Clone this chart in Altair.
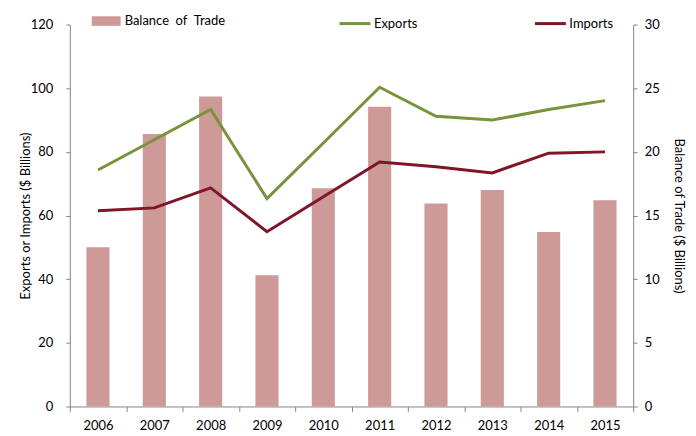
import altair as alt
import pandas as pd

years = ["2006", "2007", "2008", "2009", "2010", "2011", "2012", "2013", "2014", "2015"]
balance = [12.5, 21.4, 24.35, 10.3, 17.15, 23.55, 15.95, 17.0, 13.7, 16.2]
exports = [74.3, 83.8, 93.3, 65.3, 82.8, 100.3, 91.2, 90.0, 93.3, 96.1]
imports = [61.5, 62.4, 68.7, 54.9, 65.9, 76.8, 75.3, 73.4, 79.6, 80.0]

bar_name = ["Balance of Trade"]
bar_color = ["#CD9A97"]
line_names = ["Exports", "Imports"]
line_colors = ["#77933C", "#7F1527"]

bar_df = pd.DataFrame({"year": years, "value": balance, "series": "Balance of Trade"})
line_df = pd.concat([
    pd.DataFrame({"year": years, "value": exports, "series": "Exports"}),
    pd.DataFrame({"year": years, "value": imports, "series": "Imports"}),
])

FONT = "Lato"
x_enc = alt.X("year:O", title=None,
              scale=alt.Scale(paddingInner=0, paddingOuter=0),
              axis=alt.Axis(labelAngle=0, tickBand="extent", tickSize=5,
                            labelPadding=8, domainColor="#868686", tickColor="#868686"))

bars = alt.Chart(bar_df).mark_bar(width=alt.RelativeBandSize(0.41)).encode(
    x=x_enc,
    y=alt.Y("value:Q", title="Balance of Trade ($ Billions)",
            scale=alt.Scale(domain=[0, 30], nice=False),
            axis=alt.Axis(orient="right", values=[0, 5, 10, 15, 20, 25, 30], grid=False,
                          tickSize=4, labelPadding=7, titlePadding=12,
                          domainColor="#868686", tickColor="#868686")),
    fill=alt.Fill("series:N", scale=alt.Scale(domain=bar_name, range=bar_color),
                  legend=alt.Legend(title=None, orient="none", legendX=22, legendY=-18,
                                    symbolType="M-1,-0.33L1,-0.33L1,0.33L-1,0.33Z",
                                    symbolSize=841, symbolStrokeWidth=0, labelOffset=4,
                                    symbolOpacity=1,
                                    labelExpr="'Balance\u2002of\u2002Trade'")),
)

lines = alt.Chart(line_df).mark_line(strokeWidth=3).encode(
    x=x_enc,
    y=alt.Y("value:Q", title="Exports or Imports ($ Billions)",
            scale=alt.Scale(domain=[0, 120], nice=False),
            axis=alt.Axis(orient="left", values=[0, 20, 40, 60, 80, 100, 120], grid=False,
                          tickSize=4, labelPadding=13, titlePadding=-2,
                          domainColor="#868686", tickColor="#868686")),
    stroke=alt.Stroke("series:N", scale=alt.Scale(domain=line_names, range=line_colors),
                      legend=alt.Legend(title=None, orient="none", direction="horizontal",
                                        legendX=269, legendY=-18, columnPadding=111,
                                        symbolType="M-1,0L1,0", symbolSize=961,
                                        symbolStrokeWidth=3, labelOffset=2)),
)

chart = alt.layer(bars, lines).resolve_scale(y="independent").properties(
    width=565, height=383,
    autosize=alt.AutoSizeParams(type="none"),
    padding={"left": 62, "top": 16, "right": 55, "bottom": 28},
).configure_view(stroke=None).configure_axis(
    labelFont=FONT, titleFont=FONT, labelFontSize=13, titleFontSize=13,
    titleFontWeight="normal", labelColor="#000000", titleColor="#000000",
).configure_legend(labelFont=FONT, labelFontSize=13, labelColor="#000000")

chart.save("out.html", embed_options={"renderer": "svg", "actions": False})
